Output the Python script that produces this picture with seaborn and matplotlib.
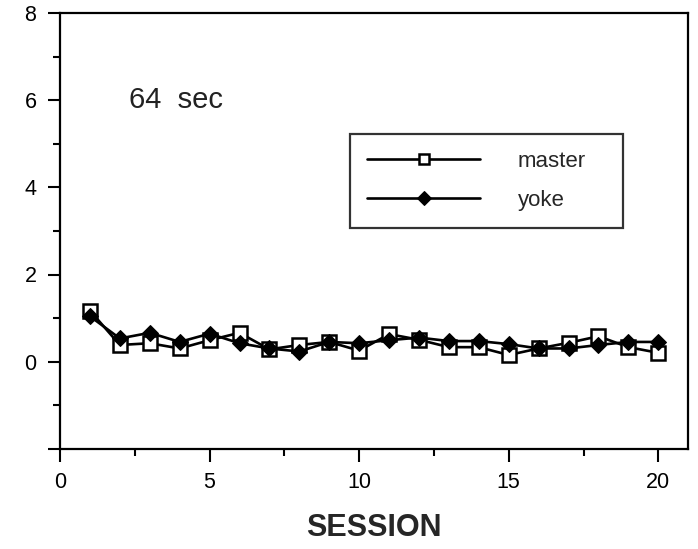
import matplotlib
matplotlib.use("Agg")
import matplotlib.pyplot as plt
import seaborn as sns
import pandas as pd
import numpy as np
from matplotlib.ticker import FixedLocator

sns.set_theme(style="white")
plt.rcParams['font.family'] = ['Liberation Sans', 'DejaVu Sans']

sessions = list(range(1, 21))
master = [1.17, 0.38, 0.42, 0.30, 0.49, 0.66, 0.28, 0.38, 0.45, 0.25,
          0.63, 0.50, 0.33, 0.33, 0.15, 0.30, 0.43, 0.58, 0.33, 0.20]
yoke = [1.04, 0.53, 0.66, 0.45, 0.64, 0.42, 0.30, 0.23, 0.45, 0.42,
        0.49, 0.55, 0.47, 0.47, 0.40, 0.30, 0.30, 0.38, 0.45, 0.45]
x_ticks = [0, 5, 10, 15, 20]
y_ticks = [-2, 0, 2, 4, 6, 8]
y_tick_labels = ["", "0", "2", "4", "6", "8"]
condition_label = "64  sec"
x_label = "SESSION"

df_m = pd.DataFrame({"session": sessions, "value": master})
df_y = pd.DataFrame({"session": sessions, "value": yoke})

fig = plt.figure(figsize=(6.98, 5.49), dpi=100)
ax = fig.add_axes([0.086, 0.183, 0.9, 0.7925])

sns.lineplot(data=df_m, x="session", y="value", ax=ax, color="black",
             linewidth=1.9, marker="s", markersize=9.5, markerfacecolor="white",
             markeredgecolor="black", markeredgewidth=1.8, label="master")
sns.lineplot(data=df_y, x="session", y="value", ax=ax, color="black",
             linewidth=1.9, marker="D", markersize=8.5, markerfacecolor="black",
             markeredgecolor="black", label="yoke")

ax.set_xlim(0, 21)
ax.set_ylim(-2, 8)
ax.set_xticks(x_ticks)
ax.set_xticklabels([str(t) for t in x_ticks])
ax.xaxis.set_minor_locator(FixedLocator([2.5, 7.5, 12.5, 17.5]))
ax.set_yticks(y_ticks)
ax.set_yticklabels(y_tick_labels)
ax.yaxis.set_minor_locator(FixedLocator([-1, 1, 3, 5, 7]))

ax.tick_params(axis="both", which="major", direction="out", length=9, width=1.5,
               colors="black", labelsize=15.5, pad=8)
ax.tick_params(axis="both", which="minor", direction="out", length=5, width=1.5,
               colors="black")
ax.tick_params(bottom=True, left=True, which="both")
for s in ax.spines.values():
    s.set_color("black")
    s.set_linewidth(1.6)

ax.set_xlabel(x_label, fontsize=22, fontweight="bold", labelpad=14)
ax.set_ylabel("")

ax.text(2.3, 6.0, condition_label, fontsize=21, va="center", ha="left", color="#222222")

leg = ax.legend(loc="upper left", bbox_to_anchor=(0.462, 0.722, 0.434, 0.0),
                mode="expand", fontsize=16, frameon=True, fancybox=False,
                edgecolor="black", handlelength=5.1, handletextpad=1.7,
                labelspacing=0.8, borderpad=0.75, borderaxespad=0)
leg.get_frame().set_linewidth(1.6)
for line in leg.get_lines():
    line.set_markersize(7)

fig.savefig("out.png", dpi=100, facecolor="white")
